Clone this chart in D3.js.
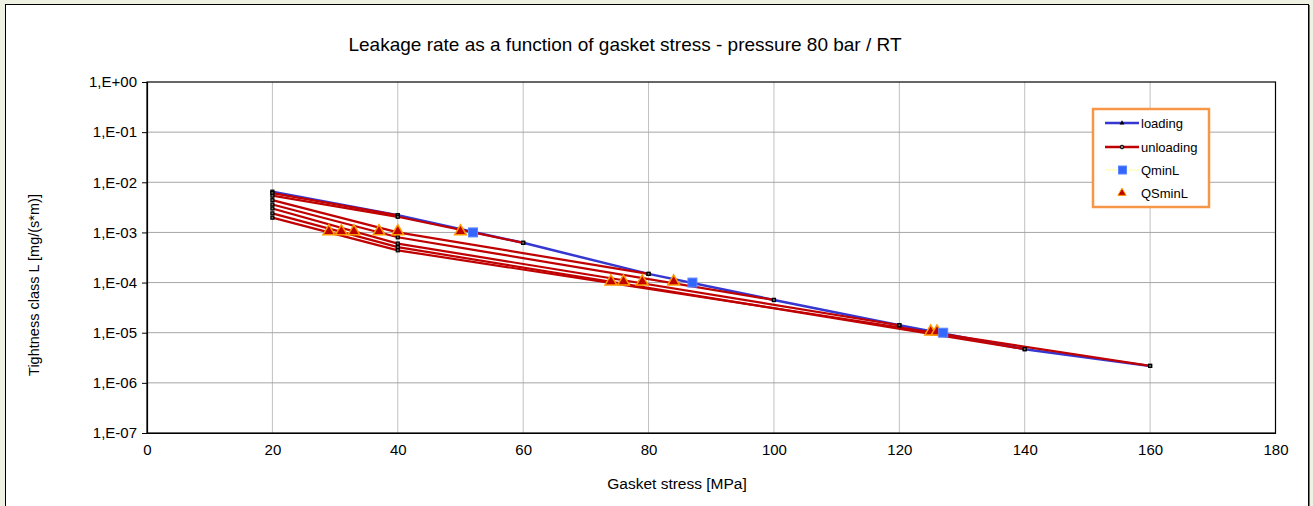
<!DOCTYPE html>
<html>
<head>
<meta charset="utf-8">
<script src="https://cdn.jsdelivr.net/npm/d3@7"></script>
<style>
  body { margin:0; background:#eff1e3; }
  text { font-family: Arial, "Liberation Sans", sans-serif; fill:#000; }
</style>
</head>
<body>
<div class="chart"></div>
<script>
// values
const stress = [20, 40, 60, 80, 100, 120, 140, 160];
const loadingL = [6.5e-3, 2.2e-3, 6.2e-4, 1.49e-4, 4.5e-5, 1.41e-5, 4.7e-6, 2.18e-6];

// unloading curves: [stress, L]
const unloading40  = [[40, 2.2e-3], [20, 6.1e-3]];
const unloading60  = [[60, 6.2e-4], [40, 2.05e-3], [20, 5.4e-3]];
const unloading80  = [[80, 1.49e-4], [40, 1.0e-3], [20, 4.4e-3]];
const unloading100 = [[100, 4.5e-5], [40, 8.0e-4], [20, 3.6e-3]];
const unloading120 = [[120, 1.41e-5], [40, 6.0e-4], [20, 3.0e-3]];
const unloading140 = [[140, 4.7e-6], [40, 5.1e-4], [20, 2.4e-3]];
const unloading160 = [[160, 2.18e-6], [40, 4.4e-4], [20, 1.97e-3]];

const qminL = [[52, 1e-3], [87, 1e-4], [127, 1e-5]];
const qsminL = [[29, 1e-3], [31, 1e-3], [33, 1e-3], [37, 1e-3], [40, 1e-3], [50, 1e-3],
                [74, 1e-4], [76, 1e-4], [79, 1e-4], [84, 1e-4], [125, 1e-5], [126, 1e-5]];

const xTicks = [0, 20, 40, 60, 80, 100, 120, 140, 160, 180];
const yTicks = [1e0, 1e-1, 1e-2, 1e-3, 1e-4, 1e-5, 1e-6, 1e-7];
const yTickLabels = ['1,E+00', '1,E-01', '1,E-02', '1,E-03', '1,E-04', '1,E-05', '1,E-06', '1,E-07'];

const W = 1313, H = 506;
const margin = {top:82, left:147, bottom:73, right:37.5};
const width = W - margin.left - margin.right;
const height = H - margin.top - margin.bottom;

const root = d3.select('.chart')
    .append('svg')
    .attr('width', W)
    .attr('height', H);

// chart area frame
root.append('rect')
    .attr('x', 5.5).attr('y', 4.5)
    .attr('width', 1303).attr('height', 510)
    .attr('fill', '#fff')
    .attr('stroke', '#000')
    .attr('stroke-width', 1);
root.append('line')
    .attr('x1', 1309.5).attr('x2', 1309.5).attr('y1', 5).attr('y2', H)
    .attr('stroke', '#777').attr('stroke-width', 1);

root.append('text')
    .attr('x', 625).attr('y', 51)
    .attr('text-anchor', 'middle')
    .style('font-size', '19px')
    .text('Leakage rate as a function of gasket stress - pressure 80 bar / RT');

const svg = root.append('g')
    .attr('transform', 'translate(' + margin.left + ',' + margin.top + ')');

const xScale = d3.scaleLinear().domain([0, 180]).range([0, width]);
const yScale = d3.scaleLog().domain([1e-7, 1]).range([height, 0]);

// grid
svg.append('g').selectAll('line')
    .data(xTicks.slice(1, -1))
    .enter().append('line')
    .attr('x1', d => xScale(d)).attr('x2', d => xScale(d))
    .attr('y1', 0).attr('y2', height)
    .attr('stroke', '#c0c0c0').attr('stroke-width', 1);
svg.append('g').selectAll('line')
    .data(yTicks.slice(1, -1))
    .enter().append('line')
    .attr('x1', 0).attr('x2', width)
    .attr('y1', d => yScale(d)).attr('y2', d => yScale(d))
    .attr('stroke', '#a6a6a6').attr('stroke-width', 1);

svg.append('rect')
    .attr('x', 0).attr('y', 0)
    .attr('width', width).attr('height', height)
    .attr('fill', 'none')
    .attr('stroke', '#000')
    .attr('stroke-width', 1.2);

// axes
const xAxis = d3.axisBottom(xScale).tickValues(xTicks).tickSize(0).tickPadding(11);
const yAxis = d3.axisLeft(yScale).tickValues(yTicks).tickSize(5).tickPadding(5)
    .tickFormat((d, i) => yTickLabels[i]);

svg.append('g')
    .attr('class', 'x-axis')
    .attr('transform', `translate(0, ${height})`)
    .call(xAxis);
svg.append('g')
    .attr('class', 'y-axis')
    .call(yAxis);

svg.selectAll('.x-axis text, .y-axis text')
    .style('font-size', '15px')
    .style('font-family', 'Arial, "Liberation Sans", sans-serif');
svg.selectAll('.domain').attr('stroke', '#000').attr('stroke-width', 1.2);

root.append('text')
    .attr('x', 677).attr('y', 489)
    .attr('text-anchor', 'middle')
    .style('font-size', '15.5px')
    .text('Gasket stress [MPa]');
root.append('text')
    .attr('transform', 'translate(39,285) rotate(-90)')
    .attr('text-anchor', 'middle')
    .style('font-size', '14.5px')
    .text('Tightness class L [mg/(s*m)]');

const line = d3.line()
    .x(d => xScale(d[0]))
    .y(d => yScale(d[1]));

const loading = stress.map((s, i) => [s, loadingL[i]]);
const unloadCurves = [unloading40, unloading60, unloading80, unloading100,
                      unloading120, unloading140, unloading160];

svg.append('path')
    .datum(loading)
    .attr('d', line)
    .attr('fill', 'none')
    .attr('stroke', '#3636d0')
    .attr('stroke-width', 2.5);

svg.append('g').selectAll('path')
    .data(unloadCurves)
    .enter().append('path')
    .attr('d', line)
    .attr('fill', 'none')
    .attr('stroke', '#c00000')
    .attr('stroke-width', 2.2);

const allPoints = loading.concat(...unloadCurves);
svg.append('g').selectAll('rect')
    .data(allPoints)
    .enter().append('rect')
    .attr('x', d => xScale(d[0]) - 1.5)
    .attr('y', d => yScale(d[1]) - 1.5)
    .attr('width', 3).attr('height', 3)
    .attr('fill', '#666')
    .attr('stroke', '#000')
    .attr('stroke-width', 1.2);

const tri = d3.symbol().type(d3.symbolTriangle).size(60);
svg.append('g').selectAll('path')
    .data(qsminL)
    .enter().append('path')
    .attr('d', tri)
    .attr('transform', d => `translate(${xScale(d[0])},${yScale(d[1]) - 1})`)
    .attr('fill', '#c00000')
    .attr('stroke', '#ff9900')
    .attr('stroke-width', 1.5);

svg.append('g').selectAll('rect')
    .data(qminL)
    .enter().append('rect')
    .attr('x', d => xScale(d[0]) - 4.5)
    .attr('y', d => yScale(d[1]) - 4.5)
    .attr('width', 9).attr('height', 9)
    .attr('fill', '#3366ff')
    .attr('stroke', '#5c85ff')
    .attr('stroke-width', 1);

// legend
const lg = root.append('g').attr('transform', 'translate(1093,109)');
lg.append('rect')
    .attr('width', 116).attr('height', 98)
    .attr('fill', '#fff')
    .attr('stroke', '#f79646')
    .attr('stroke-width', 2.5);

const legendRows = [
  {label:'loading', y:14},
  {label:'unloading', y:38},
  {label:'QminL', y:61},
  {label:'QSminL', y:84}
];
lg.append('line').attr('x1', 12).attr('x2', 46).attr('y1', 14).attr('y2', 14)
    .attr('stroke', '#3636d0').attr('stroke-width', 2.5);
lg.append('path').attr('d', d3.symbol().type(d3.symbolTriangle).size(10))
    .attr('transform', 'translate(29,14)').attr('fill', '#000');
lg.append('line').attr('x1', 12).attr('x2', 46).attr('y1', 38).attr('y2', 38)
    .attr('stroke', '#c00000').attr('stroke-width', 2.5);
lg.append('circle').attr('cx', 29).attr('cy', 38).attr('r', 1.8)
    .attr('fill', '#888').attr('stroke', '#000');
lg.append('line').attr('x1', 12).attr('x2', 46).attr('y1', 61).attr('y2', 61)
    .attr('stroke', '#ffff99').attr('stroke-width', 1);
lg.append('rect').attr('x', 25.5).attr('y', 57).attr('width', 8).attr('height', 8)
    .attr('fill', '#3366ff').attr('stroke', '#5c85ff');
lg.append('path').attr('d', d3.symbol().type(d3.symbolTriangle).size(30))
    .attr('transform', 'translate(29,84)')
    .attr('fill', '#c00000').attr('stroke', '#ff9900');
lg.selectAll('text.lbl')
    .data(legendRows)
    .enter().append('text')
    .attr('class', 'lbl')
    .attr('x', 48).attr('y', d => d.y + 5)
    .style('font-size', '13px')
    .text(d => d.label);
</script>
</body>
</html>
